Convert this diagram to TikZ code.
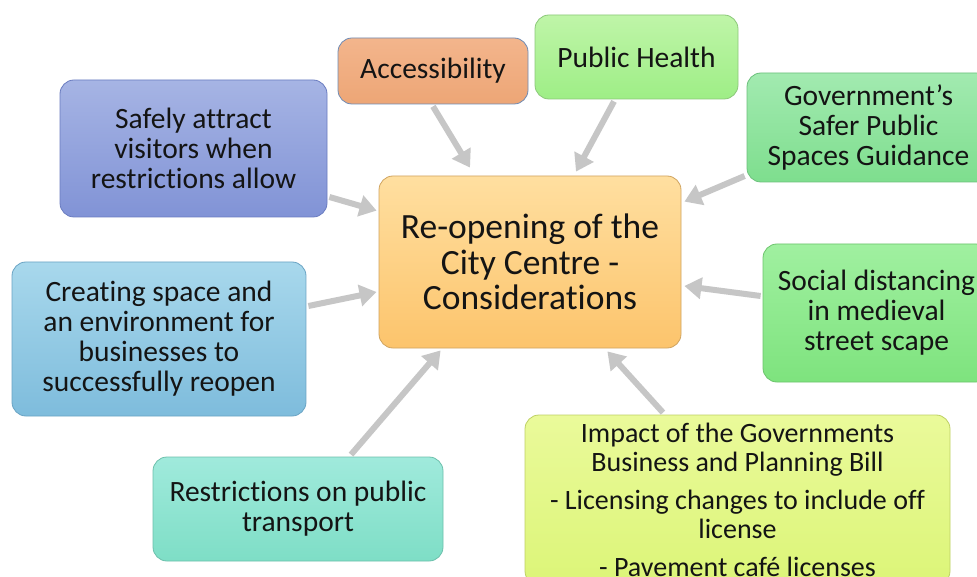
\documentclass[tikz,border=0pt]{standalone}
\usepackage{fontspec}
\setmainfont[Ligatures=NoCommon]{Carlito}
\usetikzlibrary{arrows.meta,calc}
\definecolor{arrgray}{HTML}{C6C6C6}
\definecolor{txt}{HTML}{141414}
\tikzset{
  bx/.style={rectangle, rounded corners=14pt, align=center, inner sep=0pt,
    line width=0.8pt, text=txt, font=\fontsize{29.5}{30}\selectfont},
  arr/.style={draw=arrgray, line width=6pt, -{Triangle[length=17pt,width=21pt]}},
}
\begin{document}
\begin{tikzpicture}[x=1pt,y=-1pt]
\useasboundingbox (0,0) rectangle (977,577);
\fill[white] (0,0) rectangle (977,577);
\clip (0,0) rectangle (977,577);

\node[bx, minimum width=190pt, minimum height=66pt, top color={rgb,255:red,243;green,181;blue,140}, bottom color={rgb,255:red,237;green,166;blue,118}, draw={rgb,255:red,110;green,139;blue,181}] (acc) at (433,71) {Accessibility};

\node[bx, minimum width=203pt, minimum height=84pt, top color={rgb,255:red,191;green,245;blue,168}, bottom color={rgb,255:red,158;green,238;blue,134}, draw={rgb,255:red,140;green,200;blue,122}] (ph) at (636.5,57) {Public Health};

\node[bx, minimum width=243pt, minimum height=109pt, top color={rgb,255:red,162;green,234;blue,176}, bottom color={rgb,255:red,126;green,222;blue,142}, draw={rgb,255:red,108;green,192;blue,124}] (gov) at (868.5,127.5) {Government’s\\Safer Public\\Spaces Guidance};

\node[bx, minimum width=267pt, minimum height=137pt, top color={rgb,255:red,166;green,180;blue,228}, bottom color={rgb,255:red,129;green,147;blue,214}, draw={rgb,255:red,106;green,124;blue,192}] (safe) at (193.5,148.5) {Safely attract\\visitors when\\restrictions allow};

\node[bx, minimum width=302pt, minimum height=172pt, font=\fontsize{35.5}{35.5}\selectfont, top color={rgb,255:red,255;green,223;blue,160}, bottom color={rgb,255:red,252;green,196;blue,108}, draw={rgb,255:red,208;green,164;blue,96}] (ctr) at (530,262) {Re-opening of the\\City Centre -\\Considerations};

\node[bx, minimum width=227pt, minimum height=138pt, top color={rgb,255:red,160;green,240;blue,160}, bottom color={rgb,255:red,126;green,227;blue,126}, draw={rgb,255:red,108;green,196;blue,108}] (soc) at (876.5,313) {Social distancing\\in medieval\\street scape};

\node[bx, minimum width=294pt, minimum height=154pt, top color={rgb,255:red,168;green,216;blue,236}, bottom color={rgb,255:red,126;green,188;blue,220}, draw={rgb,255:red,106;green,164;blue,196}] (cre) at (159,339) {Creating space and\\an environment for\\businesses to\\successfully reopen};

\node[bx, minimum width=290pt, minimum height=104pt, top color={rgb,255:red,160;green,234;blue,220}, bottom color={rgb,255:red,126;green,222;blue,198}, draw={rgb,255:red,108;green,192;blue,172}] (res) at (298,509) {Restrictions on public\\transport};

\node[bx, minimum width=425pt, minimum height=170pt, font=\fontsize{28}{29}\selectfont, top color={rgb,255:red,234;green,250;blue,154}, bottom color={rgb,255:red,220;green,245;blue,120}, draw={rgb,255:red,190;green,208;blue,100}] (imp) at (737.5,500) {Impact of the Governments\\Business and Planning Bill\\[9pt]- Licensing changes to include off\\license\\[9pt]- Pavement café licenses};

\draw[arr] ($(acc.south)+(0,2)$) -- ($(ctr.north)+(-60,-8)$);
\draw[arr] ($(ph.south)+(-22.5,2)$) -- ($(ctr.north)+(46,-4)$);
\draw[arr] ($(gov.west)+(-2,48.5)$) -- ($(ctr.north east)+(3,26)$);
\draw[arr] ($(safe.east)+(2,48.5)$) -- ($(ctr.north west)+(-2,35)$);
\draw[arr] ($(cre.east)+(2,-33)$) -- ($(ctr.west)+(-2,30)$);
\draw[arr] ($(soc.west)+(-2,-17)$) -- ($(ctr.east)+(3,24)$);
\draw[arr] ($(res.north)+(53,-2)$) -- ($(ctr.south west)+(62,2)$);
\draw[arr] ($(imp.north)+(-74.5,-2)$) -- ($(ctr.south east)+(-74,3)$);
\end{tikzpicture}
\end{document}
